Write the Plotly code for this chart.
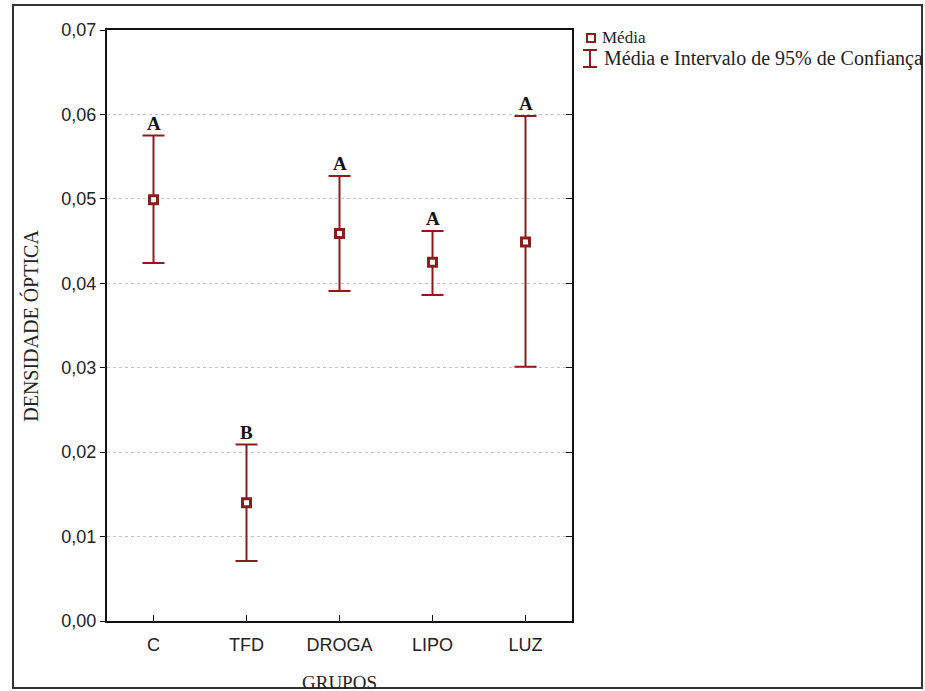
import plotly.graph_objects as go

grupos = ["C", "TFD", "DROGA", "LIPO", "LUZ"]
media = [0.0499, 0.0140, 0.0459, 0.0425, 0.0449]
ic_sup = [0.0575, 0.0209, 0.0527, 0.0462, 0.0598]
ic_inf = [0.0424, 0.0071, 0.0391, 0.0386, 0.0301]
letras = ["A", "B", "A", "A", "A"]
y_ticks = [0.00, 0.01, 0.02, 0.03, 0.04, 0.05, 0.06, 0.07]
y_ticktext = ["0,00", "0,01", "0,02", "0,03", "0,04", "0,05", "0,06", "0,07"]

RED = "#8b1c1c"
SERIF = "Liberation Serif, Times New Roman, serif"
SANS = "Liberation Sans, Arial, sans-serif"

err_plus = [u - m for u, m in zip(ic_sup, media)]
err_minus = [m - l for m, l in zip(media, ic_inf)]

fig = go.Figure()
fig.add_trace(go.Scatter(
    x=grupos, y=media, mode="markers",
    marker=dict(symbol="square-open", size=9, color=RED, line=dict(width=2, color=RED)),
    error_y=dict(type="data", symmetric=False, array=err_plus, arrayminus=err_minus,
                 color=RED, thickness=2, width=11),
    showlegend=False,
))
fig.add_trace(go.Scatter(
    x=grupos, y=media, mode="markers",
    marker=dict(symbol="square", size=7, color="white", line=dict(width=2, color=RED)),
    showlegend=False, hoverinfo="skip",
))
fig.add_trace(go.Scatter(x=grupos, y=media, yaxis="y2", mode="markers",
                         marker=dict(opacity=0), showlegend=False, hoverinfo="skip"))

for g, u, t in zip(grupos, ic_sup, letras):
    fig.add_annotation(x=g, y=u, text="<b>%s</b>" % t, showarrow=False,
                       yanchor="bottom", yshift=0,
                       font=dict(family=SERIF, size=19, color="#111"))

fig.add_annotation(xref="paper", yref="paper", x=-0.165, y=0.5, text="DENSIDADE ÓPTICA",
                   textangle=-90, showarrow=False, xanchor="center", yanchor="middle",
                   font=dict(family=SERIF, size=20, color="#222"))
fig.add_annotation(xref="paper", yref="paper", x=0.5, y=-0.104, text="GRUPOS",
                   showarrow=False, xanchor="center", yanchor="middle",
                   font=dict(family=SERIF, size=19, color="#222"))

L = 465.0
H = 591.0
def px(xp):
    return (xp - 107) / L
def py(yp):
    return (621 - yp) / H

fig.add_shape(type="rect", xref="paper", yref="paper",
              x0=px(587), x1=px(595), y0=py(42), y1=py(34),
              line=dict(color=RED, width=2), fillcolor="white")
fig.add_annotation(xref="paper", yref="paper", x=px(600), y=py(38), text="Média",
                   showarrow=False, xanchor="left", yanchor="middle",
                   font=dict(family=SERIF, size=17, color="#222"))
fig.add_shape(type="line", xref="paper", yref="paper", x0=px(590), x1=px(590),
              y0=py(50), y1=py(67), line=dict(color=RED, width=2))
fig.add_shape(type="line", xref="paper", yref="paper", x0=px(583), x1=px(597),
              y0=py(50), y1=py(50), line=dict(color=RED, width=2))
fig.add_shape(type="line", xref="paper", yref="paper", x0=px(583), x1=px(597),
              y0=py(67), y1=py(67), line=dict(color=RED, width=2))
fig.add_annotation(xref="paper", yref="paper", x=px(602), y=py(59),
                   text="Média e Intervalo de 95% de Confiança",
                   showarrow=False, xanchor="left", yanchor="middle",
                   font=dict(family=SERIF, size=20, color="#222"))

fig.add_shape(type="rect", xref="paper", yref="paper",
              x0=px(13), x1=px(922), y0=py(688), y1=py(5),
              line=dict(color="#333", width=2))

fig.update_layout(
    width=925, height=691,
    margin=dict(l=107, r=925 - 572, t=30, b=691 - 621),
    paper_bgcolor="white", plot_bgcolor="white",
    xaxis=dict(range=[-0.5, 4.5], showgrid=False, showline=True, mirror=True,
               linecolor="#111", linewidth=2, ticks="inside", ticklen=6,
               tickcolor="#111", tickwidth=1, ticklabelstandoff=6,
               tickfont=dict(family=SANS, size=18, color="#222"), zeroline=False),
    yaxis=dict(range=[0, 0.07], tickvals=y_ticks, ticktext=y_ticktext,
               showgrid=True, gridcolor="#c4c4c4", griddash="dot", gridwidth=1,
               showline=True, mirror=True, linecolor="#111", linewidth=2,
               ticks="outside", ticklen=5, tickcolor="#111", tickwidth=1,
               tickfont=dict(family=SANS, size=18, color="#222"), zeroline=False),
    yaxis2=dict(range=[0, 0.07], tickvals=y_ticks, overlaying="y", side="right",
                showticklabels=False, ticks="inside", ticklen=6, tickcolor="#111",
                showgrid=False, zeroline=False, showline=False),
)

fig.write_html("out.html", config={"displayModeBar": False},
               post_script="document.body.style.margin='0px';")
